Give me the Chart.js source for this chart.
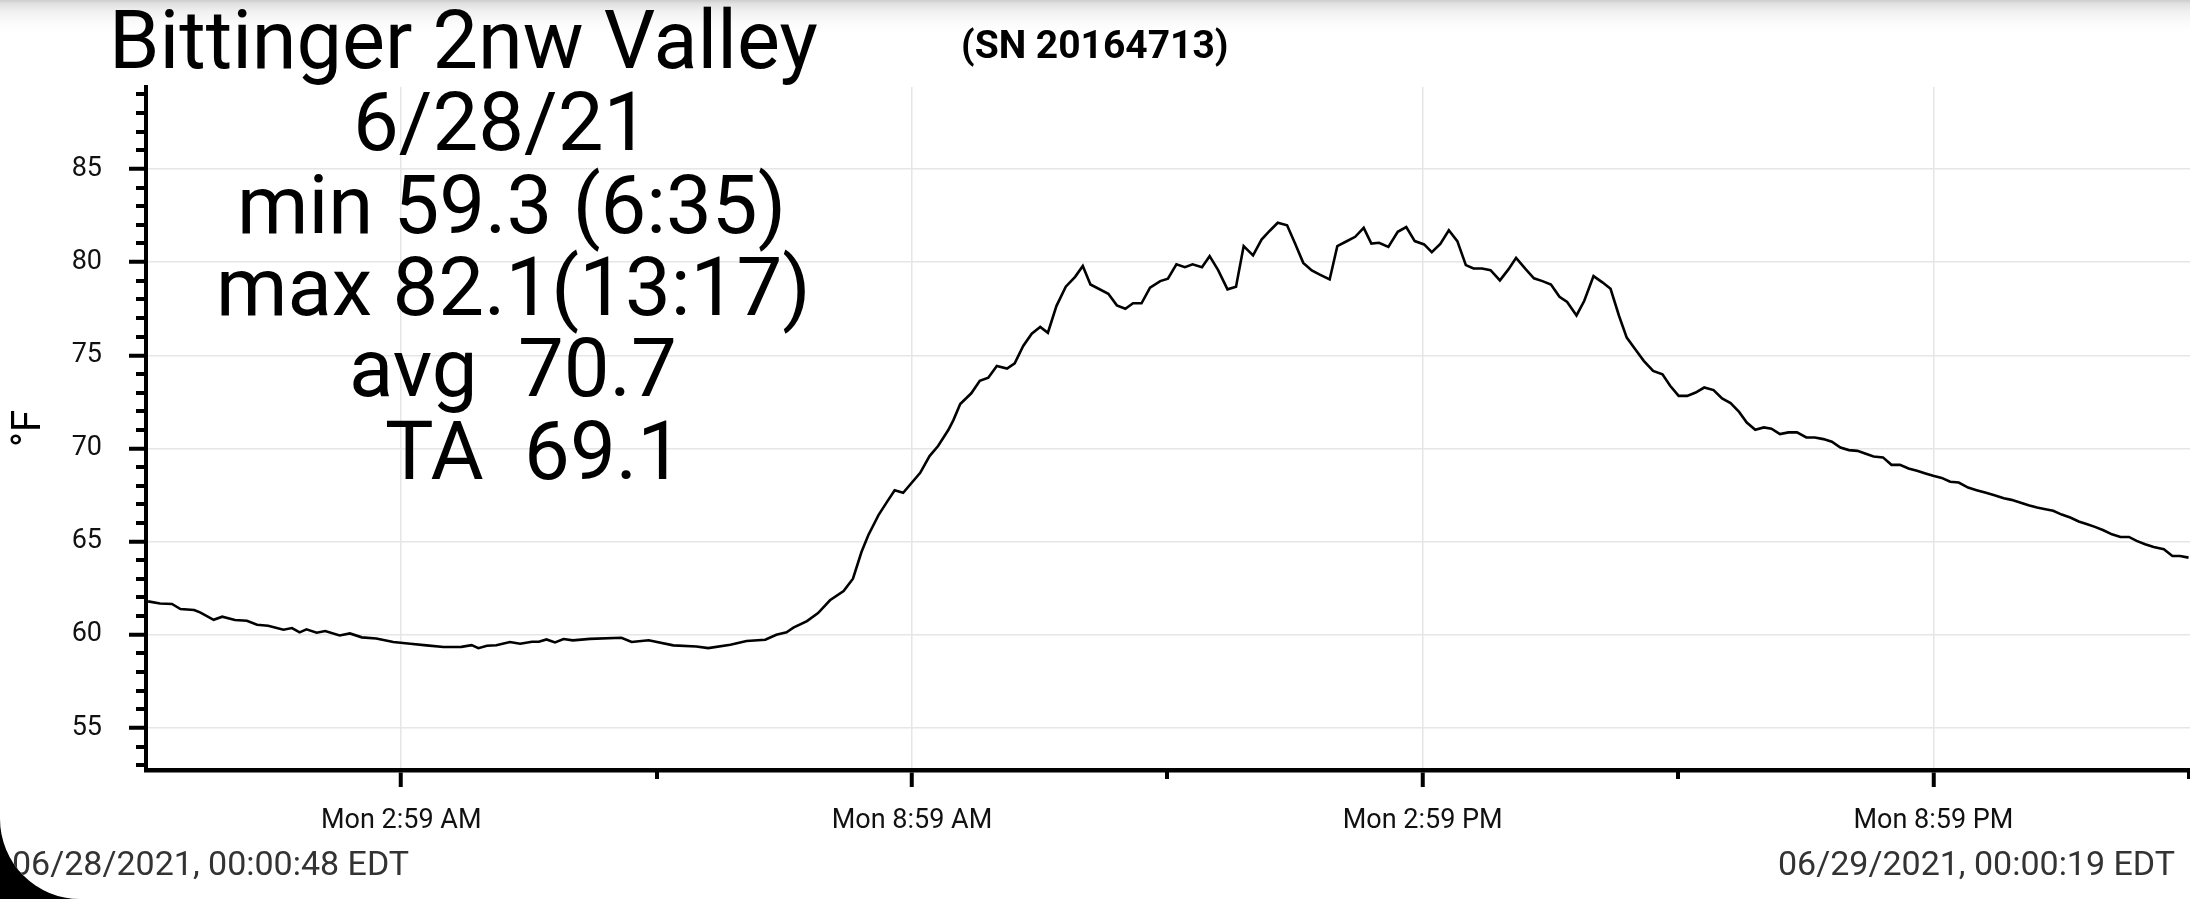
<!DOCTYPE html>
<html>
<head>
<meta charset="utf-8">
<script src="https://cdn.jsdelivr.net/npm/chart.js@4.4.1/dist/chart.umd.min.js"></script>
<style>
  html, body { margin:0; padding:0; background:#000; }
  #wrap { position:relative; width:2190px; height:899px; overflow:hidden;
          background: linear-gradient(to bottom, #cdcdcd 0px, #e2e2e2 4px, #f1f1f1 12px, #fafafa 22px, #ffffff 32px);
          border-bottom-left-radius: 80px; font-family: Roboto, "Noto Sans", sans-serif; }
  canvas { position:absolute; left:0; top:0; }
  .t { position:absolute; line-height:1; white-space:pre; color:#000; }
  .big { font-size:81.5px; }
</style>
</head>
<body>
<div id="wrap">
  <canvas id="c" width="2190" height="899"></canvas>
  <div class="t" style="left:109px; top:0px; font-size:81px;">Bittinger 2nw Valley</div>
  <div class="t" style="left:961px; top:26px; font-size:39px; font-weight:bold;">(SN 20164713)</div>
  <div class="t big" style="left:353px; top:82px;">6/28/21</div>
  <div class="t big" style="left:237px; top:165px;">min 59.3 (6:35)</div>
  <div class="t big" style="left:216px; top:247px;">max 82.1(13:17)</div>
  <div class="t big" style="left:349px; top:328px;">avg  70.7</div>
  <div class="t big" style="left:385px; top:411px;">TA  69.1</div>
  <div class="t" style="left:12px; top:846px; font-size:34px; color:#333;">06/28/2021, 00:00:48 EDT</div>
  <div class="t" style="right:15px; top:846px; font-size:34px; color:#333;">06/29/2021, 00:00:19 EDT</div>
</div>
<script>
// hours since midnight, 6/28/21
const times = [
  0.01,0.15,0.29,0.39,0.55,0.62,0.78,0.88,1.03,1.17,1.29,1.42,1.60,1.70,1.79,1.87,1.99,2.09,2.26,2.38,
  2.52,2.69,2.89,3.09,3.28,3.48,3.69,3.81,3.89,3.99,4.10,4.26,4.38,4.52,4.60,4.69,4.79,4.89,
  5.00,5.20,5.57,5.69,5.89,6.18,6.45,6.59,6.85,7.04,7.26,7.39,7.51,7.59,7.75,7.88,8.02,8.18,8.29,
  8.39,8.47,8.59,8.69,8.78,8.88,9.08,9.19,9.29,9.41,9.47,
  9.55,9.68,9.78,9.88,9.98,10.10,10.19,10.29,10.39,10.49,10.58,10.68,10.79,10.90,10.99,11.08,11.29,
  11.39,11.49,11.58,11.68,11.78,11.90,11.99,12.09,12.19,12.28,12.39,12.48,12.58,12.69,12.79,12.88,
  12.99,13.09,13.19,13.28,13.39,13.48,13.58,13.68,13.78,13.89,13.98,14.09,14.19,14.29,14.38,14.47,14.58,
  14.69,14.79,14.89,15.00,15.09,15.19,15.29,15.39,15.49,15.58,15.68,15.78,15.89,15.99,16.08,16.19,
  16.29,16.39,16.49,16.59,16.68,16.79,16.88,16.99,17.09,17.19,17.29,17.38,17.48,17.58,17.69,17.80,
  17.89,17.99,18.09,18.19,18.29,18.40,18.50,18.60,18.70,18.79,18.89,18.99,
  19.08,19.18,19.28,19.38,19.49,19.59,19.69,19.79,19.89,19.99,20.09,20.18,20.28,20.39,20.49,20.59,
  20.69,20.79,20.89,20.98,21.08,21.18,21.28,21.39,21.49,21.59,21.70,21.81,21.90,22.00,22.10,22.20,
  22.30,22.39,22.49,22.59,22.69,22.79,22.88,22.98,23.08,23.18,23.28,23.37,23.47,23.57,23.69,23.79,
  23.88,23.98
];
// temperature, °F
const temps = [
  61.79,61.68,61.65,61.38,61.33,61.20,60.80,60.97,60.79,60.75,60.54,60.48,60.27,60.36,60.13,60.29,60.11,60.20,59.96,60.07,
  59.86,59.80,59.61,59.52,59.43,59.34,59.35,59.44,59.28,59.41,59.44,59.61,59.52,59.62,59.62,59.75,59.59,59.77,
  59.70,59.78,59.84,59.61,59.70,59.43,59.37,59.28,59.46,59.66,59.73,60.00,60.13,60.38,60.73,61.16,61.85,62.35,63.01,
  64.44,65.34,66.42,67.13,67.76,67.62,68.69,69.59,70.13,70.99,71.52,
  72.38,72.96,73.63,73.80,74.43,74.29,74.57,75.50,76.16,76.52,76.21,77.64,78.68,79.21,79.79,78.80,78.30,
  77.68,77.50,77.79,77.79,78.63,78.98,79.11,79.88,79.73,79.88,79.73,80.32,79.57,78.54,78.68,80.86,
  80.36,81.21,81.70,82.11,81.98,81.04,79.96,79.55,79.32,79.07,80.86,81.12,81.36,81.84,81.00,81.04,80.82,
  81.63,81.88,81.13,80.95,80.54,80.98,81.71,81.13,79.84,79.66,79.66,79.57,79.02,79.61,80.23,79.64,
  79.13,78.98,78.80,78.14,77.86,77.14,77.91,79.25,78.93,78.57,77.11,75.95,75.32,74.70,74.16,73.98,
  73.36,72.82,72.82,73.00,73.27,73.13,72.68,72.43,71.96,71.39,71.00,71.13,
  71.06,70.77,70.86,70.86,70.59,70.59,70.50,70.36,70.05,69.91,69.87,69.73,69.57,69.52,69.12,69.12,
  68.92,68.80,68.66,68.53,68.42,68.21,68.17,67.90,67.76,67.63,67.49,67.33,67.24,67.10,66.95,66.83,
  66.74,66.65,66.45,66.29,66.08,65.93,65.79,65.61,65.39,65.25,65.25,65.04,64.86,64.71,64.59,64.23,
  64.23,64.14
];
// labelled x ticks every 6 h from 2:59 AM, unlabelled ones in between
const xTickValues = [2.983, 8.983, 14.983, 20.983];
const xTickLabels = ['Mon 2:59 AM', 'Mon 8:59 AM', 'Mon 2:59 PM', 'Mon 8:59 PM'];
const xMinorTickValues = [5.983, 11.983, 17.983, 23.983];
const yTickValues = [55, 60, 65, 70, 75, 80, 85];
const yMinorTickValues = [53,54,56,57,58,59,61,62,63,64,66,67,68,69,71,72,73,74,76,77,78,79,81,82,83,84,86,87,88,89];
const xRange = [-0.015, 23.997];
const yRange = [52.74, 89.4];
const yTitle = '°F';

const minorTicks = {
  id: 'minorTicks',
  afterDraw(chart) {
    const { ctx, scales: { x, y } } = chart;
    ctx.save();
    ctx.strokeStyle = '#000';
    ctx.lineWidth = 4;
    yMinorTickValues.forEach(v => {
      const py = Math.round(y.getPixelForValue(v));
      ctx.beginPath(); ctx.moveTo(y.right - 10, py); ctx.lineTo(y.right, py); ctx.stroke();
    });
    xMinorTickValues.forEach(v => {
      const px = Math.round(x.getPixelForValue(v));
      ctx.beginPath(); ctx.moveTo(px, x.top); ctx.lineTo(px, x.top + 9); ctx.stroke();
    });
    ctx.restore();
  }
};

new Chart(document.getElementById('c'), {
  type: 'line',
  data: {
    datasets: [{
      data: times.map((t, i) => ({ x: t, y: temps[i] })),
      borderColor: '#000',
      borderWidth: 2.6,
      pointRadius: 0,
      tension: 0,
      fill: false
    }]
  },
  options: {
    responsive: false,
    animation: false,
    devicePixelRatio: 1,
    layout: { padding: { top: 87, right: 0, bottom: 29, left: 0 } },
    plugins: { legend: { display: false }, tooltip: { enabled: false } },
    scales: {
      x: {
        type: 'linear',
        min: xRange[0], max: xRange[1],
        afterBuildTicks: s => { s.ticks = xTickValues.map(v => ({ value: v })); },
        afterFit: s => { s.height = 100; },
        ticks: {
          autoSkip: false, maxRotation: 0, minRotation: 0,
          callback: (v, i) => xTickLabels[i],
          font: { family: 'Roboto', size: 27 }, color: '#111', padding: 18
        },
        grid: {
          color: '#e6e6e6',
          lineWidth: 1.5,
          drawTicks: true, tickLength: 17, tickWidth: 4, tickColor: '#000'
        },
        border: { color: '#000', width: 4.5 }
      },
      y: {
        type: 'linear',
        min: yRange[0], max: yRange[1],
        afterBuildTicks: s => { s.ticks = yTickValues.map(v => ({ value: v })); },
        afterFit: s => { s.width = 146; },
        ticks: {
          autoSkip: false,
          callback: v => String(v),
          font: { family: 'Roboto', size: 27 }, color: '#111', padding: 27
        },
        grid: {
          color: '#e6e6e6',
          lineWidth: 1.5,
          drawTicks: true, tickLength: 17, tickWidth: 4, tickColor: '#000'
        },
        border: { color: '#000', width: 4 },
        title: { display: true, text: yTitle, font: { family: 'Roboto', size: 40 }, color: '#000', padding: { top: 6, bottom: 0 } }
      }
    }
  },
  plugins: [minorTicks]
});
</script>
</body>
</html>
